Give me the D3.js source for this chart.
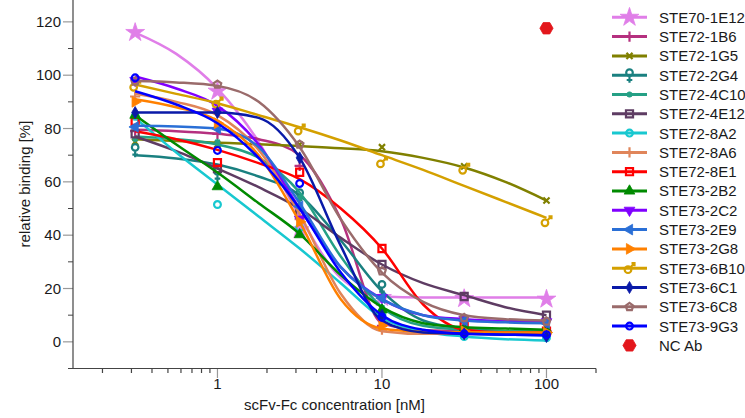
<!DOCTYPE html>
<html>
<head>
<meta charset="utf-8">
<title>relative binding vs scFv-Fc concentration</title>
<script src="https://d3js.org/d3.v7.min.js"></script>
<style>
  body { margin: 0; background: #fff; }
  text { font-family: "Liberation Sans", Arial, sans-serif; fill: #1a1a1a; }
</style>
</head>
<body>
<svg width="745" height="418"></svg>
<script>
// concentrations [nM] of the measured points
var conc = [0.316, 1, 3.16, 10, 31.6, 100];
// concentrations at which the fitted curves were read
var fitConc = [0.316, 0.562, 1, 1.78, 3.16, 5.62, 10, 17.8, 31.6, 56.2, 100];

var names = ["STE70-1E12", "STE72-1B6", "STE72-1G5", "STE72-2G4", "STE72-4C10", "STE72-4E12",
             "STE72-8A2", "STE72-8A6", "STE72-8E1", "STE73-2B2", "STE73-2C2", "STE73-2E9",
             "STE73-2G8", "STE73-6B10", "STE73-6C1", "STE73-6C8", "STE73-9G3"];

var colors = ["#e07ee8", "#b5307f", "#808000", "#1a8080", "#25a085", "#5e3c63",
              "#18c8d0", "#e0855a", "#ff0000", "#008a00", "#8000ff", "#2a6fd6",
              "#ff8000", "#d4a000", "#0a1aa8", "#9a6b6b", "#0000ff"];

var markers = ["star", "plus", "x", "female", "asterisk", "square",
               "circle", "plus", "square", "triUp", "triDown", "triLeft",
               "triRight", "male", "diamond", "pentagon", "circle"];

// measured relative binding [%]
var points = [
  [116, 94, 42, 16.6, 16.2, 16],
  [79, 78, 66, 6, 4, 4],
  [75, 74, 74, 73, 65.8, 53],
  [72, 63, 55, 20.6, 4, 3],
  [76, 75, 54, 13, 4, 4],
  [78, 65, 48, 29, 17, 10],
  [84.6, 51.5, 42.8, 10, 2, 1.5],
  [92, 86, 46, 4.6, 3, 3],
  [82.7, 67.2, 63.6, 35, 6, 4],
  [85, 58.2, 40.2, 12, 5, 4.5],
  [98, 86.5, 46, 16.6, 8.5, 7.5],
  [80.6, 80, 50.8, 16.4, 8, 7],
  [90, 82, 45, 6.1, 4, 3.5],
  [96, 89.7, 79.6, 67.3, 64.9, 45.2],
  [86, 86, 69, 10, 3, 2],
  [97.7, 96.5, 74, 26.5, 9, 7.7],
  [99, 71.8, 59.4, 9.2, 3, 2.7]
];

// fitted curves, values read at fitConc
var fits = [
  [116, 108, 95, 75, 47, 24, 17, 16.6, 16.6, 16.6, 16.6],
  [79.5, 79, 78, 76, 70, 46, 7, 4.3, 4, 4, 4],
  [76, 75.3, 74.7, 74.1, 73.4, 72.6, 71.5, 69, 65.4, 60, 53],
  [70, 68.8, 66.5, 62, 55, 38, 19, 8, 5, 4, 3.5],
  [77, 76, 74, 69, 56, 32, 13, 6, 4.5, 4, 4],
  [77, 71.5, 65, 58, 50, 39, 29, 22, 17.5, 13, 10],
  [84, 71, 59, 47, 35, 22, 9, 4, 2, 1, 0.5],
  [93, 90, 85, 72, 48, 18, 4, 3, 3, 3, 3],
  [79, 76, 72, 67, 61, 50, 35, 14, 4.5, 3.5, 3.5],
  [85, 74, 63.5, 52, 40.5, 25, 13, 7, 5.5, 5, 4.5],
  [99.5, 95, 88.5, 74, 50, 28, 16, 10, 8.5, 7.8, 7.5],
  [81, 80.8, 80, 73, 52, 28, 16, 10, 8, 7.3, 7],
  [91, 88, 83, 70, 45, 16, 5, 3.8, 3.6, 3.5, 3.5],
  [96.5, 93, 89.5, 85, 80.5, 75.5, 70, 64.5, 58.5, 52.5, 46.5],
  [86, 86, 86, 84, 69, 36, 8, 3.5, 3, 2.7, 2.5],
  [97.8, 97.3, 96, 90, 73, 46, 26, 15, 10, 8.5, 8],
  [94, 89, 82, 69, 50, 26, 10, 4.5, 3, 2.7, 2.5]
];

var ncConc = [100];
var ncValue = [117.6];

var xTickLabels = [1, 10, 100];
var yTickLabels = [0, 20, 40, 60, 80, 100, 120];

var svg = d3.select("svg");

var x = d3.scaleLog().domain([0.1324, 200]).range([73, 596]);
var y = d3.scaleLinear().domain([-10, 128.2]).range([368.5, 0]);

// axes
var yMinor = d3.range(-10, 125, 20);
var gy = svg.append("g");
gy.selectAll(".minor").data(yMinor).enter().append("line")
    .attr("x1", 68).attr("x2", 73)
    .attr("y1", function(d) { return y(d); }).attr("y2", function(d) { return y(d); })
    .attr("stroke", "#444").attr("stroke-width", 1);
gy.selectAll(".major").data(yTickLabels).enter().append("line")
    .attr("x1", 63).attr("x2", 73)
    .attr("y1", function(d) { return y(d); }).attr("y2", function(d) { return y(d); })
    .attr("stroke", "#999").attr("stroke-width", 1.2);
gy.selectAll("text").data(yTickLabels).enter().append("text")
    .attr("x", 61).attr("y", function(d) { return y(d); })
    .attr("dy", "0.35em").attr("text-anchor", "end")
    .style("font-size", "15px").text(function(d) { return d; });
gy.append("line").attr("x1", 73).attr("x2", 73).attr("y1", 0).attr("y2", 368.5)
    .attr("stroke", "#444").attr("stroke-width", 1.2);

var xAll = x.ticks();
var gx = svg.append("g");
gx.selectAll("line.tick").data(xAll).enter().append("line")
    .attr("x1", function(d) { return x(d); }).attr("x2", function(d) { return x(d); })
    .attr("y1", 368.5)
    .attr("y2", function(d) { return xTickLabels.indexOf(d) >= 0 ? 378 : 373; })
    .attr("stroke", function(d) { return xTickLabels.indexOf(d) >= 0 ? "#999" : "#444"; })
    .attr("stroke-width", 1.2);
gx.selectAll("text").data(xTickLabels).enter().append("text")
    .attr("x", function(d) { return x(d); }).attr("y", 389)
    .attr("text-anchor", "middle").style("font-size", "15px")
    .text(function(d) { return d; });
gx.append("line").attr("x1", 73).attr("x2", 596).attr("y1", 368.5).attr("y2", 368.5)
    .attr("stroke", "#444").attr("stroke-width", 1.2);

svg.append("text").attr("x", 334.5).attr("y", 409.5).attr("text-anchor", "middle")
    .style("font-size", "15px").text("scFv-Fc concentration [nM]");
svg.append("text").attr("transform", "translate(29.5,184) rotate(-90)")
    .attr("text-anchor", "middle").style("font-size", "15px").text("relative binding [%]");

// marker shapes
function polygon(n, r, rot) {
  var p = [];
  for (var i = 0; i < n; i++) {
    var a = rot + i * 2 * Math.PI / n;
    p.push([r * Math.cos(a), r * Math.sin(a)]);
  }
  return "M" + p.join("L") + "Z";
}
function circ(cx, cy, r) {
  return "M" + (cx + r) + "," + cy + "A" + r + "," + r + " 0 1,1 " + (cx - r) + "," + cy +
         "A" + r + "," + r + " 0 1,1 " + (cx + r) + "," + cy;
}
var shapes = {
  star:     { d: d3.symbol(d3.symbolStar, 110)(), filled: true },
  plus:     { d: d3.symbol(d3.symbolPlus, 36)(), filled: false },
  x:        { d: d3.symbol(d3.symbolX, 26)(), filled: false },
  asterisk: { d: d3.symbol(d3.symbolAsterisk, 26)(), filled: false },
  square:   { d: d3.symbol(d3.symbolSquare, 50)(), filled: false },
  circle:   { d: circ(0, 0, 3.4), filled: false },
  triUp:    { d: d3.symbol(d3.symbolTriangle, 50)(), filled: true },
  triDown:  { d: d3.symbol(d3.symbolTriangle, 50)(), filled: true, rot: 180 },
  triLeft:  { d: d3.symbol(d3.symbolTriangle, 50)(), filled: true, rot: -90 },
  triRight: { d: d3.symbol(d3.symbolTriangle, 50)(), filled: true, rot: 90 },
  diamond:  { d: d3.symbol(d3.symbolDiamond, 42)(), filled: true },
  pentagon: { d: polygon(5, 4, -Math.PI / 2), filled: false },
  hexagon:  { d: polygon(6, 6.6, 0), filled: true },
  female:   { d: circ(0, -2.5, 3.3) + "M0,1V7.5M-2.8,4.8H2.8", filled: false },
  male:     { d: circ(-1.5, 1.5, 3.3) + "M1,-1L5,-5M2,-5H5V-2", filled: false }
};

function drawMarker(g, type, color) {
  var s = shapes[type];
  g.append("path").attr("d", s.d)
    .attr("transform", s.rot ? "rotate(" + s.rot + ")" : null)
    .attr("fill", s.filled ? color : "none")
    .attr("stroke", color)
    .attr("stroke-width", s.filled ? 0.8 : 2.2);
}

var line = d3.line()
    .x(function(d) { return x(d[0]); })
    .y(function(d) { return y(d[1]); })
    .curve(d3.curveMonotoneX);

names.forEach(function(name, i) {
  var g = svg.append("g");
  g.append("path")
      .datum(fitConc.map(function(c, j) { return [c, fits[i][j]]; }))
      .attr("d", line)
      .attr("fill", "none")
      .attr("stroke", colors[i])
      .attr("stroke-width", 2.5);
  conc.forEach(function(c, j) {
    var m = g.append("g").attr("transform", "translate(" + x(c) + "," + y(points[i][j]) + ")");
    drawMarker(m, markers[i], colors[i]);
  });
});

ncConc.forEach(function(c, j) {
  var m = svg.append("g").attr("transform", "translate(" + x(c) + "," + y(ncValue[j]) + ")");
  drawMarker(m, "hexagon", "#e3171c");
});

// legend
var legend = svg.append("g");
var rowY = function(i) { return 17.3 + i * 19.3; };
names.forEach(function(name, i) {
  var r = legend.append("g").attr("transform", "translate(0," + rowY(i) + ")");
  r.append("line").attr("x1", 612).attr("x2", 647).attr("stroke", colors[i]).attr("stroke-width", 3);
  drawMarker(r.append("g").attr("transform", "translate(629.5,0)"), markers[i], colors[i]);
  r.append("text").attr("x", 659).attr("dy", "0.36em").style("font-size", "15px").text(name);
});
var nr = legend.append("g").attr("transform", "translate(0," + rowY(names.length) + ")");
drawMarker(nr.append("g").attr("transform", "translate(629.5,0)"), "hexagon", "#e3171c");
nr.append("text").attr("x", 659).attr("dy", "0.36em").style("font-size", "15px").text("NC Ab");
</script>
</body>
</html>
